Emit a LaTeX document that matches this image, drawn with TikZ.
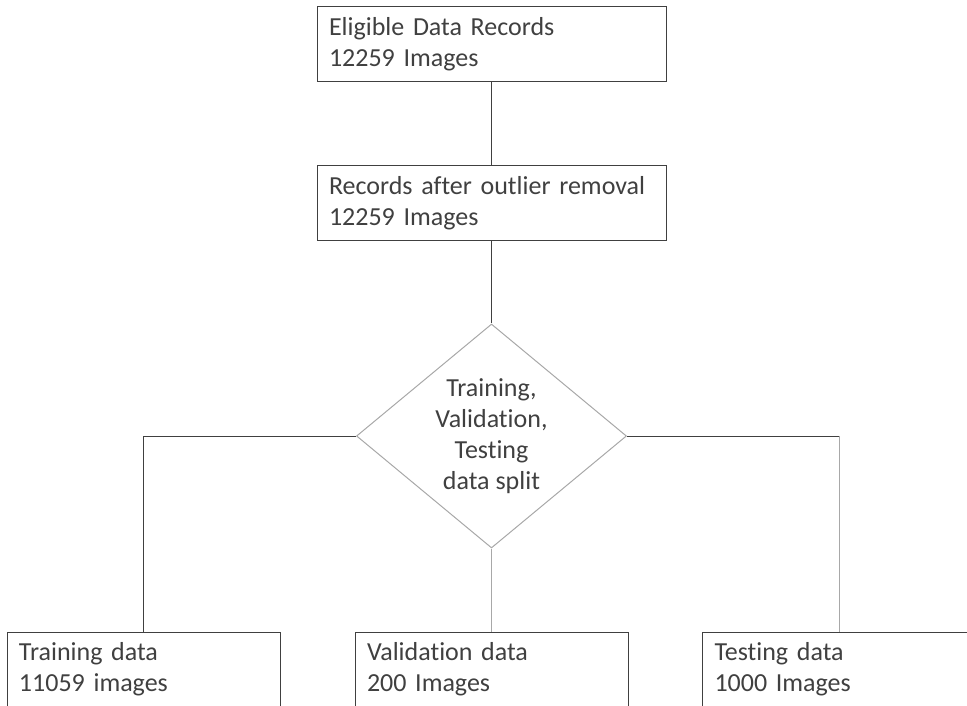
\documentclass[tikz,border=0pt]{standalone}
\usepackage{fontspec}
\setmainfont{Carlito}[Ligatures={NoCommon}]
\usetikzlibrary{shapes.geometric}
\definecolor{flowStroke}{RGB}{64,64,64}
\definecolor{flowText}{RGB}{64,64,64}
\definecolor{flowGrey}{RGB}{168,168,168}
\tikzset{
  recordbox/.style={draw=flowStroke,line width=1pt,rectangle,inner xsep=12pt,inner ysep=0pt,
    minimum height=75pt,align=left,text=flowText,font=\fontsize{26}{31}\selectfont},
  splitdiamond/.style={draw=flowGrey,line width=1pt,diamond,aspect=1.2,inner sep=0pt,
    minimum width=270pt,minimum height=224pt,align=center,text=flowText,
    font=\fontsize{26}{31}\selectfont},
  link/.style={draw=flowStroke,line width=1pt}
}

\begin{document}
\begin{tikzpicture}[x=1pt,y=-1pt]
  \useasboundingbox (0,0) rectangle (967,706);
  \node[recordbox,text width=325pt] (eligible) at (491.5,44.5) {Eligible Data Records\\12259 Images};
  \node[recordbox,text width=325pt] (outlier) at (491.5,203) {Records after outlier removal\\12259 Images};
  \node[splitdiamond] (split) at (491.5,436) {Training,\\Validation,\\Testing\\data split};
  \node[recordbox,text width=249pt] (training) at (143.5,669.5) {Training data\\11059 images};
  \node[recordbox,text width=249pt] (validation) at (491.5,669.5) {Validation data\\200 Images};
  \node[recordbox,text width=249pt] (testing) at (839,669.5) {Testing data\\1000 Images};
  \coordinate (testbend) at (split.east -| testing.north);
  \draw[link] (eligible) -- (outlier);
  \draw[link] (outlier) -- (split);
  \draw[link] (split.west) -| (training.north);
  \draw[link,draw=flowGrey] (split) -- (validation);
  \draw[link] (split.east) -- (testbend);
  \draw[link,draw=flowGrey] (testbend) -- (testing.north);
\end{tikzpicture}
\end{document}
